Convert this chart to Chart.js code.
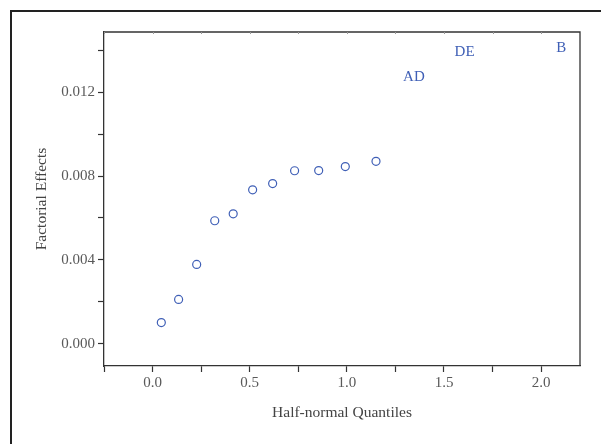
<!DOCTYPE html>
<html>
<head>
<meta charset="utf-8">
<script src="https://cdn.jsdelivr.net/npm/chart.js@4"></script>
<style>
  body { margin: 0; background: #fff; }
  #wrap { position: relative; width: 601px; height: 444px; }
  #frame { position: absolute; left: 10px; top: 10px; right: -5px; bottom: -5px;
           border-left: 2px solid #222; border-top: 2px solid #222; pointer-events: none; }
</style>
</head>
<body>
<div id="wrap">
  <canvas id="plot" width="601" height="444"></canvas>
  <div id="frame"></div>
</div>
<script>
// half-normal plot data
const quantiles = [0.045, 0.134, 0.227, 0.320, 0.415, 0.515, 0.618, 0.731, 0.855, 0.992, 1.150];
const effects = [0.00102, 0.00212, 0.00379, 0.00587, 0.00620, 0.00734, 0.00764, 0.00825, 0.00826, 0.00845, 0.00870];

const labelNames = ["AD", "DE", "B"];
const labelQuantiles = [1.345, 1.606, 2.104];
const labelEffects = [0.01270, 0.01390, 0.01409];

const xTicks = [-0.25, 0, 0.25, 0.5, 0.75, 1.0, 1.25, 1.5, 1.75, 2.0];
const yTicks = [0, 0.002, 0.004, 0.006, 0.008, 0.010, 0.012, 0.014];

const serif = "'Liberation Serif', 'DejaVu Serif', serif";
const blue = "#3f5fb6";

const boxAndLabels = {
  id: "boxAndLabels",
  afterDatasetsDraw(chart) {
    const {ctx, chartArea: a, scales: {x, y}} = chart;
    ctx.save();
    // top and right borders of the plot box
    ctx.strokeStyle = "#333";
    ctx.lineWidth = 1.3;
    ctx.beginPath();
    ctx.moveTo(a.left, a.top);
    ctx.lineTo(a.right, a.top);
    ctx.lineTo(a.right, a.bottom);
    ctx.stroke();
    // small ticks on top border
    ctx.strokeStyle = "#999";
    ctx.lineWidth = 1;
    xTicks.forEach(v => {
      const px = Math.round(x.getPixelForValue(v)) + 0.5;
      ctx.beginPath();
      ctx.moveTo(px, a.top);
      ctx.lineTo(px, a.top + 2);
      ctx.stroke();
    });
    // effect labels
    ctx.fillStyle = blue;
    ctx.font = "15px " + serif;
    ctx.textAlign = "center";
    ctx.textBaseline = "middle";
    labelNames.forEach((name, i) => {
      ctx.fillText(name, x.getPixelForValue(labelQuantiles[i]), y.getPixelForValue(labelEffects[i]));
    });
    ctx.restore();
  }
};

new Chart(document.getElementById("plot"), {
  type: "scatter",
  data: {
    datasets: [{
      data: quantiles.map((q, i) => ({x: q, y: effects[i]})),
      pointStyle: "circle",
      pointRadius: 4,
      pointBorderWidth: 1.2,
      borderColor: blue,
      backgroundColor: "rgba(0,0,0,0)"
    }]
  },
  options: {
    responsive: false,
    animation: false,
    layout: { padding: { left: 0, right: 21, top: 32, bottom: 18 } },
    plugins: { legend: { display: false }, tooltip: { enabled: false } },
    scales: {
      x: {
        type: "linear",
        min: -0.25,
        max: 2.2,
        afterBuildTicks: s => { s.ticks = xTicks.map(v => ({value: v})); },
        afterFit: s => { s.height = 60; },
        grid: { drawOnChartArea: false, tickLength: 6, color: "#333", tickWidth: 1.2 },
        border: { color: "#333", width: 1.3 },
        ticks: {
          color: "#595959",
          font: { family: serif, size: 15 },
          padding: 2,
          maxRotation: 0,
          callback: v => (Math.abs(v * 2 - Math.round(v * 2)) < 1e-9 && v >= 0) ? v.toFixed(1) : ""
        },
        title: {
          display: true,
          text: "Half-normal Quantiles",
          color: "#444",
          font: { family: serif, size: 15.5 },
          padding: { top: 0, bottom: 3.7 }
        }
      },
      y: {
        type: "linear",
        min: -0.00105,
        max: 0.01486,
        afterBuildTicks: s => { s.ticks = yTicks.map(v => ({value: v})); },
        afterFit: s => { s.width = 104; },
        grid: { drawOnChartArea: false, tickLength: 6, color: "#333", tickWidth: 1.2 },
        border: { color: "#333", width: 1.3 },
        ticks: {
          color: "#595959",
          font: { family: serif, size: 15 },
          padding: 3,
          callback: v => (Math.round(v * 1000) % 4 === 0) ? v.toFixed(3) : ""
        },
        title: {
          display: true,
          text: "Factorial Effects",
          color: "#444",
          font: { family: serif, size: 15.5 },
          padding: { top: 32.7, bottom: 0 }
        }
      }
    }
  },
  plugins: [boxAndLabels]
});
</script>
</body>
</html>
